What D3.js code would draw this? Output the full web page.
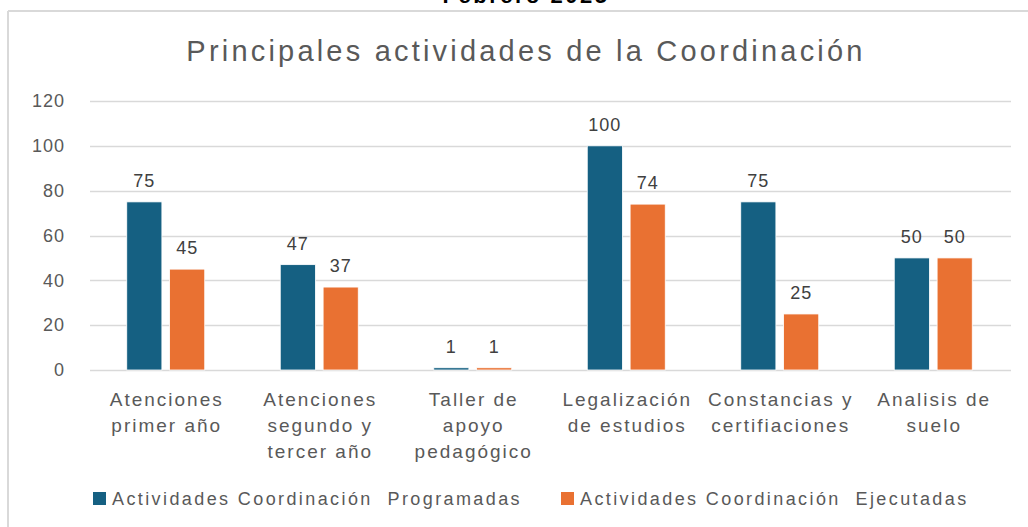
<!DOCTYPE html>
<html lang="es">
<head>
<meta charset="UTF-8">
<title>Principales actividades de la Coordinación</title>
<script src="https://d3js.org/d3.v7.min.js"></script>
<style>
  body { margin: 0; background: #fff; }
</style>
</head>
<body>
<svg width="1028" height="527"></svg>
<script>
// data
const categories = [
  ["Atenciones", "primer año"],
  ["Atenciones", "segundo y", "tercer año"],
  ["Taller de", "apoyo", "pedagógico"],
  ["Legalización", "de estudios"],
  ["Constancias y", "certifiaciones"],
  ["Analisis de", "suelo"]
];
const programadas = [75, 47, 1, 100, 75, 50];
const ejecutadas = [45, 37, 1, 74, 25, 50];
const seriesNames = ["Actividades Coordinación  Programadas", "Actividades Coordinación  Ejecutadas"];
const yTicks = [0, 20, 40, 60, 80, 100, 120];

const colors = ["#156082", "#E97132"];
const font = "Liberation Sans, Arial, sans-serif";
const svg = d3.select("svg");

// outer frame (top and left edges visible)
svg.append("line").attr("x1", 8).attr("x2", 1028).attr("y1", 11).attr("y2", 11)
   .attr("stroke", "#d9d9d9").attr("stroke-width", 2);
svg.append("line").attr("x1", 8).attr("x2", 8).attr("y1", 11).attr("y2", 527)
   .attr("stroke", "#d9d9d9").attr("stroke-width", 2);

// cut-off heading above the chart
svg.append("text")
   .attr("x", 526).attr("y", 3)
   .attr("text-anchor", "middle")
   .style("font-family", font)
   .style("font-weight", "bold")
   .style("font-size", "22px")
   .style("letter-spacing", "2.5px")
   .attr("fill", "#000")
   .text("Febrero 2025");

svg.append("text")
   .attr("x", 526).attr("y", 61)
   .attr("text-anchor", "middle")
   .style("font-family", font)
   .style("font-size", "29px")
   .style("letter-spacing", "3.2px")
   .attr("fill", "#595959")
   .text("Principales actividades de la Coordinación");

const x0 = d3.scaleBand().domain(d3.range(categories.length)).range([90, 1011]);
const x1 = d3.scaleBand().domain([0, 1]).range([0, 78]).paddingInner(0.18);
const y = d3.scaleLinear().domain([0, 120]).range([370, 101]);

// gridlines
svg.append("g")
   .selectAll("line")
   .data(yTicks)
   .join("line")
   .attr("x1", 90).attr("x2", 1011)
   .attr("y1", d => Math.round(y(d)) + 0.5).attr("y2", d => Math.round(y(d)) + 0.5)
   .attr("stroke", "#d9d9d9").attr("stroke-width", 1.5);

// y axis labels
const yAxis = svg.append("g")
   .attr("transform", "translate(65,0)")
   .call(d3.axisLeft(y).tickValues(yTicks).tickSize(0).tickPadding(0));
yAxis.select(".domain").remove();
yAxis.selectAll("text")
   .style("font-family", font)
   .style("font-size", "18px")
   .style("letter-spacing", "1px")
   .attr("fill", "#595959");

// bars
const groups = svg.append("g")
   .selectAll("g")
   .data(categories.map((c, i) => [programadas[i], ejecutadas[i]]))
   .join("g")
   .attr("transform", (d, i) => `translate(${x0(i) + x0.bandwidth() / 2 - 40},0)`);

groups.selectAll("rect")
   .data(d => d)
   .join("rect")
   .attr("x", (d, j) => x1(j))
   .attr("y", d => y(d))
   .attr("width", x1.bandwidth())
   .attr("height", d => y(0) - y(d))
   .attr("fill", (d, j) => colors[j])
   .attr("stroke", "#fff")
   .attr("stroke-width", 0.8);

groups.selectAll("text")
   .data(d => d)
   .join("text")
   .attr("x", (d, j) => x1(j) + x1.bandwidth() / 2)
   .attr("y", d => y(d) - 15)
   .attr("text-anchor", "middle")
   .style("font-family", font)
   .style("font-size", "18px")
   .style("letter-spacing", "1px")
   .attr("fill", "#404040")
   .text(d => d);

// category labels
const catLabels = svg.append("g")
   .selectAll("text")
   .data(categories)
   .join("text")
   .attr("x", (d, i) => x0(i) + x0.bandwidth() / 2)
   .attr("y", 406)
   .attr("text-anchor", "middle")
   .style("font-family", font)
   .style("font-size", "19px")
   .style("letter-spacing", "2px")
   .attr("fill", "#595959");
catLabels.selectAll("tspan")
   .data(d => d)
   .join("tspan")
   .attr("x", function() { return d3.select(this.parentNode).attr("x"); })
   .attr("dy", (d, k) => k === 0 ? 0 : 26)
   .text(d => d);

// legend
const legendX = [93, 561];
const legend = svg.append("g")
   .selectAll("g")
   .data(seriesNames)
   .join("g")
   .attr("transform", (d, i) => `translate(${legendX[i]},492)`);
legend.append("rect")
   .attr("width", 13).attr("height", 13)
   .attr("fill", (d, i) => colors[i]);
legend.append("text")
   .attr("x", 19).attr("y", 13)
   .style("font-family", font)
   .style("font-size", "18px")
   .style("letter-spacing", "2.4px")
   .style("white-space", "pre")
   .attr("fill", "#595959")
   .text(d => d);
</script>
</body>
</html>
